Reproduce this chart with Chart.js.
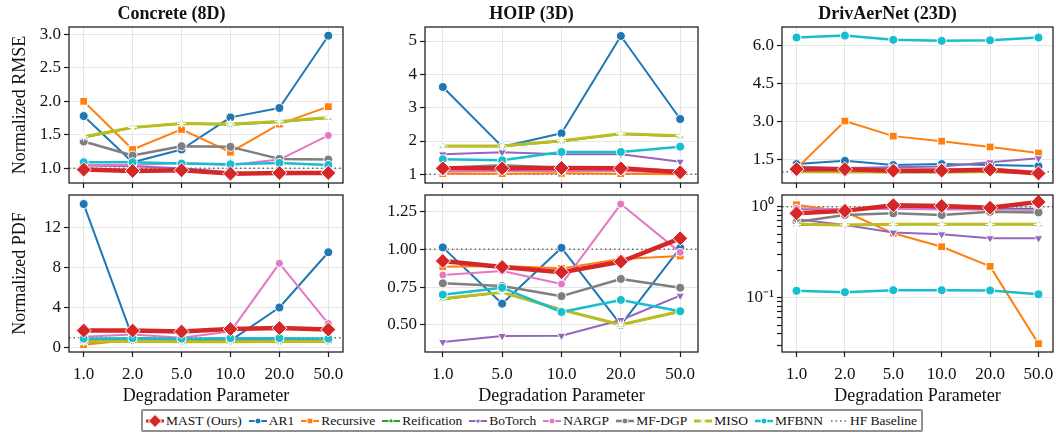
<!DOCTYPE html>
<html>
<head>
<meta charset="utf-8">
<script src="https://cdn.jsdelivr.net/npm/chart.js@4.4.1/dist/chart.umd.min.js"></script>
<style>
  html, body { margin: 0; padding: 0; background: #fff; }
  #figure { position: relative; width: 1056px; height: 433px; overflow: hidden; font-family: 'Liberation Serif', 'Times New Roman', serif; }
  .panel { position: absolute; }
  .panel canvas { display: block; }
  #legend-wrap { position: absolute; left: 8px; right: 0; top: 409px; display: flex; justify-content: center; }
  #legend { display: inline-flex; align-items: center; gap: 6px; border: 2px solid #8f8f8f; border-radius: 2px; padding: 1px 4px 1px 2px; font-size: 13.5px; color: #111; line-height: 17px; }
  #legend .item { display: inline-flex; align-items: center; gap: 1px; white-space: nowrap; }
  #legend canvas { display: block; }
</style>
</head>
<body>
<div id="figure">
  <div class="panel" id="p-concrete-rmse"><canvas></canvas></div>
  <div class="panel" id="p-hoip-rmse"><canvas></canvas></div>
  <div class="panel" id="p-drivaer-rmse"><canvas></canvas></div>
  <div class="panel" id="p-concrete-pdf"><canvas></canvas></div>
  <div class="panel" id="p-hoip-pdf"><canvas></canvas></div>
  <div class="panel" id="p-drivaer-pdf"><canvas></canvas></div>
  <div id="legend-wrap"><div id="legend"></div></div>
</div>
<script>
// x categories (degradation parameter)
const DEGRADATION = ['1.0', '2.0', '5.0', '10.0', '20.0', '50.0'];
const DEGRADATION_HOIP = ['1.0', '5.0', '10.0', '20.0', '50.0'];

const METHODS = ['MAST (Ours)', 'AR1', 'Recursive', 'Reification', 'BoTorch', 'NARGP', 'MF-DGP', 'MISO', 'MFBNN'];
const HF_BASELINE = 1.0;

// one row per method, same order as METHODS
const CONCRETE_RMSE = [
  [0.98, 0.96, 0.97, 0.92, 0.93, 0.93],
  [1.78, 1.09, 1.28, 1.76, 1.90, 2.98],
  [2.00, 1.28, 1.58, 1.24, 1.66, 1.92],
  [1.46, 1.61, 1.67, 1.65, 1.69, 1.75],
  [1.04, 1.03, 1.00, 0.94, 0.91, 0.92],
  [1.05, 1.05, 1.08, 1.05, 1.13, 1.49],
  [1.40, 1.19, 1.33, 1.32, 1.14, 1.13],
  [1.47, 1.61, 1.67, 1.66, 1.70, 1.76],
  [1.09, 1.09, 1.07, 1.06, 1.08, 1.05]
];
const HOIP_RMSE = [
  [1.18, 1.18, 1.19, 1.18, 1.06],
  [3.62, 1.83, 2.23, 5.15, 2.66],
  [1.02, 1.02, 1.03, 1.02, 1.00],
  [1.84, 1.84, 1.99, 2.21, 2.14],
  [1.60, 1.66, 1.60, 1.60, 1.38],
  [1.08, 1.10, 1.10, 1.10, 1.05],
  [1.20, 1.27, 1.20, 1.18, 1.10],
  [1.85, 1.85, 2.01, 2.22, 2.16],
  [1.45, 1.42, 1.67, 1.67, 1.83]
];
const DRIVAER_RMSE = [
  [1.10, 1.10, 1.04, 1.04, 1.08, 0.93],
  [1.30, 1.43, 1.26, 1.30, 1.26, 1.22],
  [1.12, 3.01, 2.41, 2.21, 1.98, 1.74],
  [1.00, 1.00, 0.98, 0.98, 1.00, 0.95],
  [1.20, 1.15, 1.17, 1.20, 1.37, 1.53],
  [1.12, 1.10, 1.08, 1.10, 1.12, 1.00],
  [1.05, 1.00, 1.00, 1.02, 1.02, 0.95],
  [1.00, 0.99, 0.99, 0.99, 1.00, 0.97],
  [6.32, 6.40, 6.23, 6.19, 6.21, 6.32]
];
const CONCRETE_PDF = [
  [1.70, 1.70, 1.60, 1.85, 1.95, 1.80],
  [14.3, 1.00, 0.80, 0.70, 4.00, 9.50],
  [0.30, 0.80, 0.75, 0.75, 0.80, 0.80],
  [0.60, 0.65, 0.60, 0.60, 0.60, 0.60],
  [0.85, 0.85, 0.85, 0.85, 0.85, 0.85],
  [1.10, 1.30, 1.00, 1.60, 8.40, 2.40],
  [0.70, 0.75, 0.70, 0.70, 0.70, 0.70],
  [0.60, 0.65, 0.60, 0.60, 0.62, 0.62],
  [0.90, 0.95, 0.90, 0.95, 0.95, 0.90]
];
const HOIP_PDF = [
  [0.923, 0.883, 0.848, 0.918, 1.073],
  [1.013, 0.640, 1.010, 0.500, 1.010],
  [0.885, 0.890, 0.874, 0.936, 0.956],
  [0.670, 0.715, 0.600, 0.500, 0.587],
  [0.386, 0.426, 0.428, 0.532, 0.693],
  [0.830, 0.857, 0.770, 1.300, 0.980],
  [0.775, 0.757, 0.690, 0.804, 0.746],
  [0.675, 0.715, 0.600, 0.500, 0.590],
  [0.700, 0.746, 0.585, 0.665, 0.590]
];
const DRIVAER_PDF = [
  [0.845, 0.900, 1.040, 1.020, 0.975, 1.130],
  [0.950, 0.930, 0.970, 0.970, 0.950, 0.950],
  [1.050, 0.880, 0.510, 0.363, 0.221, 0.0312],
  [0.630, 0.630, 0.640, 0.640, 0.640, 0.640],
  [0.730, 0.630, 0.520, 0.497, 0.450, 0.450],
  [0.960, 0.930, 0.950, 0.930, 0.930, 0.920],
  [0.680, 0.810, 0.845, 0.810, 0.880, 0.866],
  [0.640, 0.630, 0.640, 0.640, 0.640, 0.640],
  [0.119, 0.115, 0.121, 0.121, 0.120, 0.109]
];
const PDF_LOG_TICKS = [0.03, 0.04, 0.05, 0.06, 0.07, 0.08, 0.09, 0.1, 0.2, 0.3, 0.4, 0.5, 0.6, 0.7, 0.8, 0.9, 1];

// line / marker look per method (tab10 palette)
const STYLES = [
  { color: '#d62728', width: 4.5, point: 'rectRot', radius: 7.5 },
  { color: '#1f77b4', width: 2, point: 'circle', radius: 4.5 },
  { color: '#ff7f0e', width: 2, point: 'rect', radius: 5.5 },
  { color: '#2ca02c', width: 2, point: 'triangle', radius: 5 },
  { color: '#9467bd', width: 2, point: 'triangle', radius: 5, rotation: 180 },
  { color: '#e377c2', width: 2, point: 'circle', radius: 4 },
  { color: '#7f7f7f', width: 2.5, point: 'circle', radius: 4.5 },
  { color: '#bcbd22', width: 3, point: 'star', radius: 4.5, starEdge: true },
  { color: '#17becf', width: 2.5, point: 'circle', radius: 4.5 }
];

const SERIF = "'Liberation Serif', 'Times New Roman', serif";
const INK = '#111';
Chart.defaults.font.family = SERIF;
Chart.defaults.color = INK;

const PANELS = [
  { el: 'p-concrete-rmse', rows: CONCRETE_RMSE, cats: DEGRADATION, title: 'Concrete (8D)', yTitle: 'Normalized RMSE',
    yMin: 0.78, yMax: 3.11, step: 0.5, digits: 1, box: [0, 0, 345, 189], axisW: 69, top: true },
  { el: 'p-hoip-rmse', rows: HOIP_RMSE, cats: DEGRADATION_HOIP, title: 'HOIP (3D)',
    yMin: 0.74, yMax: 5.42, step: 1, digits: 0, box: [365, 0, 335, 189], axisW: 60, top: true },
  { el: 'p-drivaer-rmse', rows: DRIVAER_RMSE, cats: DEGRADATION, title: 'DrivAerNet (23D)',
    yMin: 0.55, yMax: 6.74, step: 1.5, digits: 1, box: [722, 0, 333, 189], axisW: 60, top: true },
  { el: 'p-concrete-pdf', rows: CONCRETE_PDF, cats: DEGRADATION, yTitle: 'Normalized PDF',
    yMin: -0.43, yMax: 15.2, step: 4, digits: 0, box: [0, 194, 345, 213], axisW: 69 },
  { el: 'p-hoip-pdf', rows: HOIP_PDF, cats: DEGRADATION_HOIP,
    yMin: 0.32, yMax: 1.36, step: 0.25, digits: 2, box: [365, 194, 335, 213], axisW: 60 },
  { el: 'p-drivaer-pdf', rows: DRIVAER_PDF, cats: DEGRADATION, log: true,
    yMin: 0.0253, yMax: 1.345, box: [722, 194, 333, 213], axisW: 60 }
];

// dotted high-fidelity reference line, under the series
const baselinePlugin = {
  id: 'hfBaseline',
  beforeDatasetsDraw(chart) {
    const { ctx, chartArea: a, scales } = chart;
    const y = scales.y.getPixelForValue(HF_BASELINE);
    ctx.save();
    ctx.strokeStyle = '#666';
    ctx.lineWidth = 1.5;
    ctx.setLineDash([1.5, 3]);
    ctx.beginPath();
    ctx.moveTo(a.left, y);
    ctx.lineTo(a.right, y);
    ctx.stroke();
    ctx.restore();
  }
};

// full box around the plot area
const framePlugin = {
  id: 'frame',
  afterDraw(chart) {
    const { ctx, chartArea: a } = chart;
    ctx.save();
    ctx.strokeStyle = '#1a1a1a';
    ctx.lineWidth = 1.25;
    ctx.strokeRect(a.left, a.top, a.right - a.left, a.bottom - a.top);
    ctx.restore();
  }
};

function superscript(n) {
  const map = { '-': '\u207B', '0': '\u2070', '1': '\u00B9', '2': '\u00B2', '3': '\u00B3' };
  return String(n).split('').map(ch => map[ch] || ch).join('');
}

function buildDatasets(p) {
  return p.rows.map((vals, i) => {
    const s = STYLES[i];
    return {
      label: METHODS[i],
      data: vals.map((v, k) => ({ x: k, y: v })),
      borderColor: s.color,
      backgroundColor: s.color,
      borderWidth: s.width,
      borderCapStyle: 'round',
      borderJoinStyle: 'round',
      pointStyle: s.point,
      pointRotation: s.rotation || 0,
      pointRadius: s.radius,
      pointBackgroundColor: s.color,
      pointBorderColor: '#fff',
      pointBorderWidth: s.starEdge ? 1.2 : 1,
      tension: 0,
      order: i === 0 ? 0 : METHODS.length - i
    };
  });
}

function makePanel(p) {
  const holder = document.getElementById(p.el);
  const [left, top, w, h] = p.box;
  Object.assign(holder.style, { left: left + 'px', top: top + 'px', width: w + 'px', height: h + 'px' });

  const yScale = {
    type: p.log ? 'logarithmic' : 'linear',
    min: p.yMin,
    max: p.yMax,
    afterFit: s => { s.width = p.axisW; s.paddingTop = 0; s.paddingBottom = 0; },
    border: { display: false },
    grid: {
      color: ctx => (!p.log || (ctx.tick && (ctx.tick.value === 1 || ctx.tick.value === 0.1))) ? '#e6e6e6' : 'rgba(0,0,0,0)',
      lineWidth: 1,
      drawTicks: true,
      tickLength: 5,
      tickColor: '#1a1a1a',
      tickWidth: 1.2
    },
    ticks: {
      color: INK,
      font: { size: 17 },
      padding: 3,
      autoSkip: false,
      includeBounds: false,
      callback: v => {
        if (p.log) {
          if (v === 1) return '10' + superscript(0);
          if (v === 0.1) return '10' + superscript(-1);
          return '';
        }
        return Number(v).toFixed(p.digits);
      }
    },
    title: {
      display: !!p.yTitle,
      text: p.yTitle || '',
      color: INK,
      font: { size: 18 },
      padding: { top: 9, bottom: 0 }
    }
  };
  if (p.log) {
    yScale.afterBuildTicks = s => { s.ticks = PDF_LOG_TICKS.map(v => ({ value: v, major: v === 1 || v === 0.1 })); };
  } else {
    yScale.ticks.stepSize = p.step;
  }

  const xScale = {
    type: 'linear',
    min: -0.3,
    max: p.cats.length - 1 + 0.3,
    afterFit: s => { s.height = p.top ? 6 : 55; s.paddingLeft = 0; s.paddingRight = 0; },
    border: { display: false },
    grid: { color: '#e6e6e6', lineWidth: 1, drawTicks: true, tickLength: 5, tickColor: '#1a1a1a', tickWidth: 1.2 },
    ticks: {
      display: !p.top,
      stepSize: 1,
      includeBounds: false,
      autoSkip: false,
      maxRotation: 0,
      color: INK,
      font: { size: 17 },
      padding: 7,
      callback: v => p.cats[v] !== undefined ? p.cats[v] : ''
    },
    title: {
      display: !p.top,
      text: 'Degradation Parameter',
      color: INK,
      font: { size: 18 },
      padding: { top: 0, bottom: 0 }
    }
  };

  new Chart(holder.querySelector('canvas'), {
    type: 'line',
    data: { datasets: buildDatasets(p) },
    options: {
      responsive: true,
      maintainAspectRatio: false,
      animation: false,
      devicePixelRatio: 1,
      layout: { autoPadding: false, padding: { left: 0, right: 2, top: p.top ? 0 : 1, bottom: 0 } },
      plugins: {
        legend: { display: false },
        tooltip: { enabled: false },
        title: {
          display: !!p.title,
          text: p.title || '',
          color: INK,
          font: { size: 18, weight: 'bold' },
          padding: { top: 4, bottom: 1.4 }
        }
      },
      scales: { x: xScale, y: yScale }
    },
    plugins: [baselinePlugin, framePlugin]
  });
}

// legend: short line with the series marker, then the name
function buildLegend() {
  const box = document.getElementById('legend');
  const drawPoint = Chart.helpers && Chart.helpers.drawPoint;
  METHODS.forEach((name, i) => {
    const s = STYLES[i];
    const item = document.createElement('span');
    item.className = 'item';
    const c = document.createElement('canvas');
    c.width = 20; c.height = 16;
    const g = c.getContext('2d');
    g.strokeStyle = s.color;
    g.lineWidth = Math.min(s.width, 3);
    g.beginPath(); g.moveTo(1, 8); g.lineTo(19, 8); g.stroke();
    g.fillStyle = s.color;
    g.strokeStyle = '#fff';
    g.lineWidth = 1;
    const r = i === 0 ? 6.5 : Math.max(3, s.radius - 1.5);
    if (drawPoint) {
      drawPoint(g, { pointStyle: s.point, rotation: s.rotation || 0, radius: r, borderWidth: 1 }, 10, 8);
    } else {
      g.beginPath(); g.arc(10, 8, r, 0, Math.PI * 2); g.fill(); g.stroke();
    }
    item.appendChild(c);
    item.appendChild(document.createTextNode(name));
    box.appendChild(item);
  });
  const item = document.createElement('span');
  item.className = 'item';
  const c = document.createElement('canvas');
  c.width = 20; c.height = 16;
  const g = c.getContext('2d');
  g.strokeStyle = '#666'; g.lineWidth = 1.5; g.setLineDash([1.5, 3]);
  g.beginPath(); g.moveTo(2, 8); g.lineTo(19, 8); g.stroke();
  item.appendChild(c);
  item.appendChild(document.createTextNode('HF Baseline'));
  box.appendChild(item);
}

PANELS.forEach(makePanel);
buildLegend();
</script>
</body>
</html>
